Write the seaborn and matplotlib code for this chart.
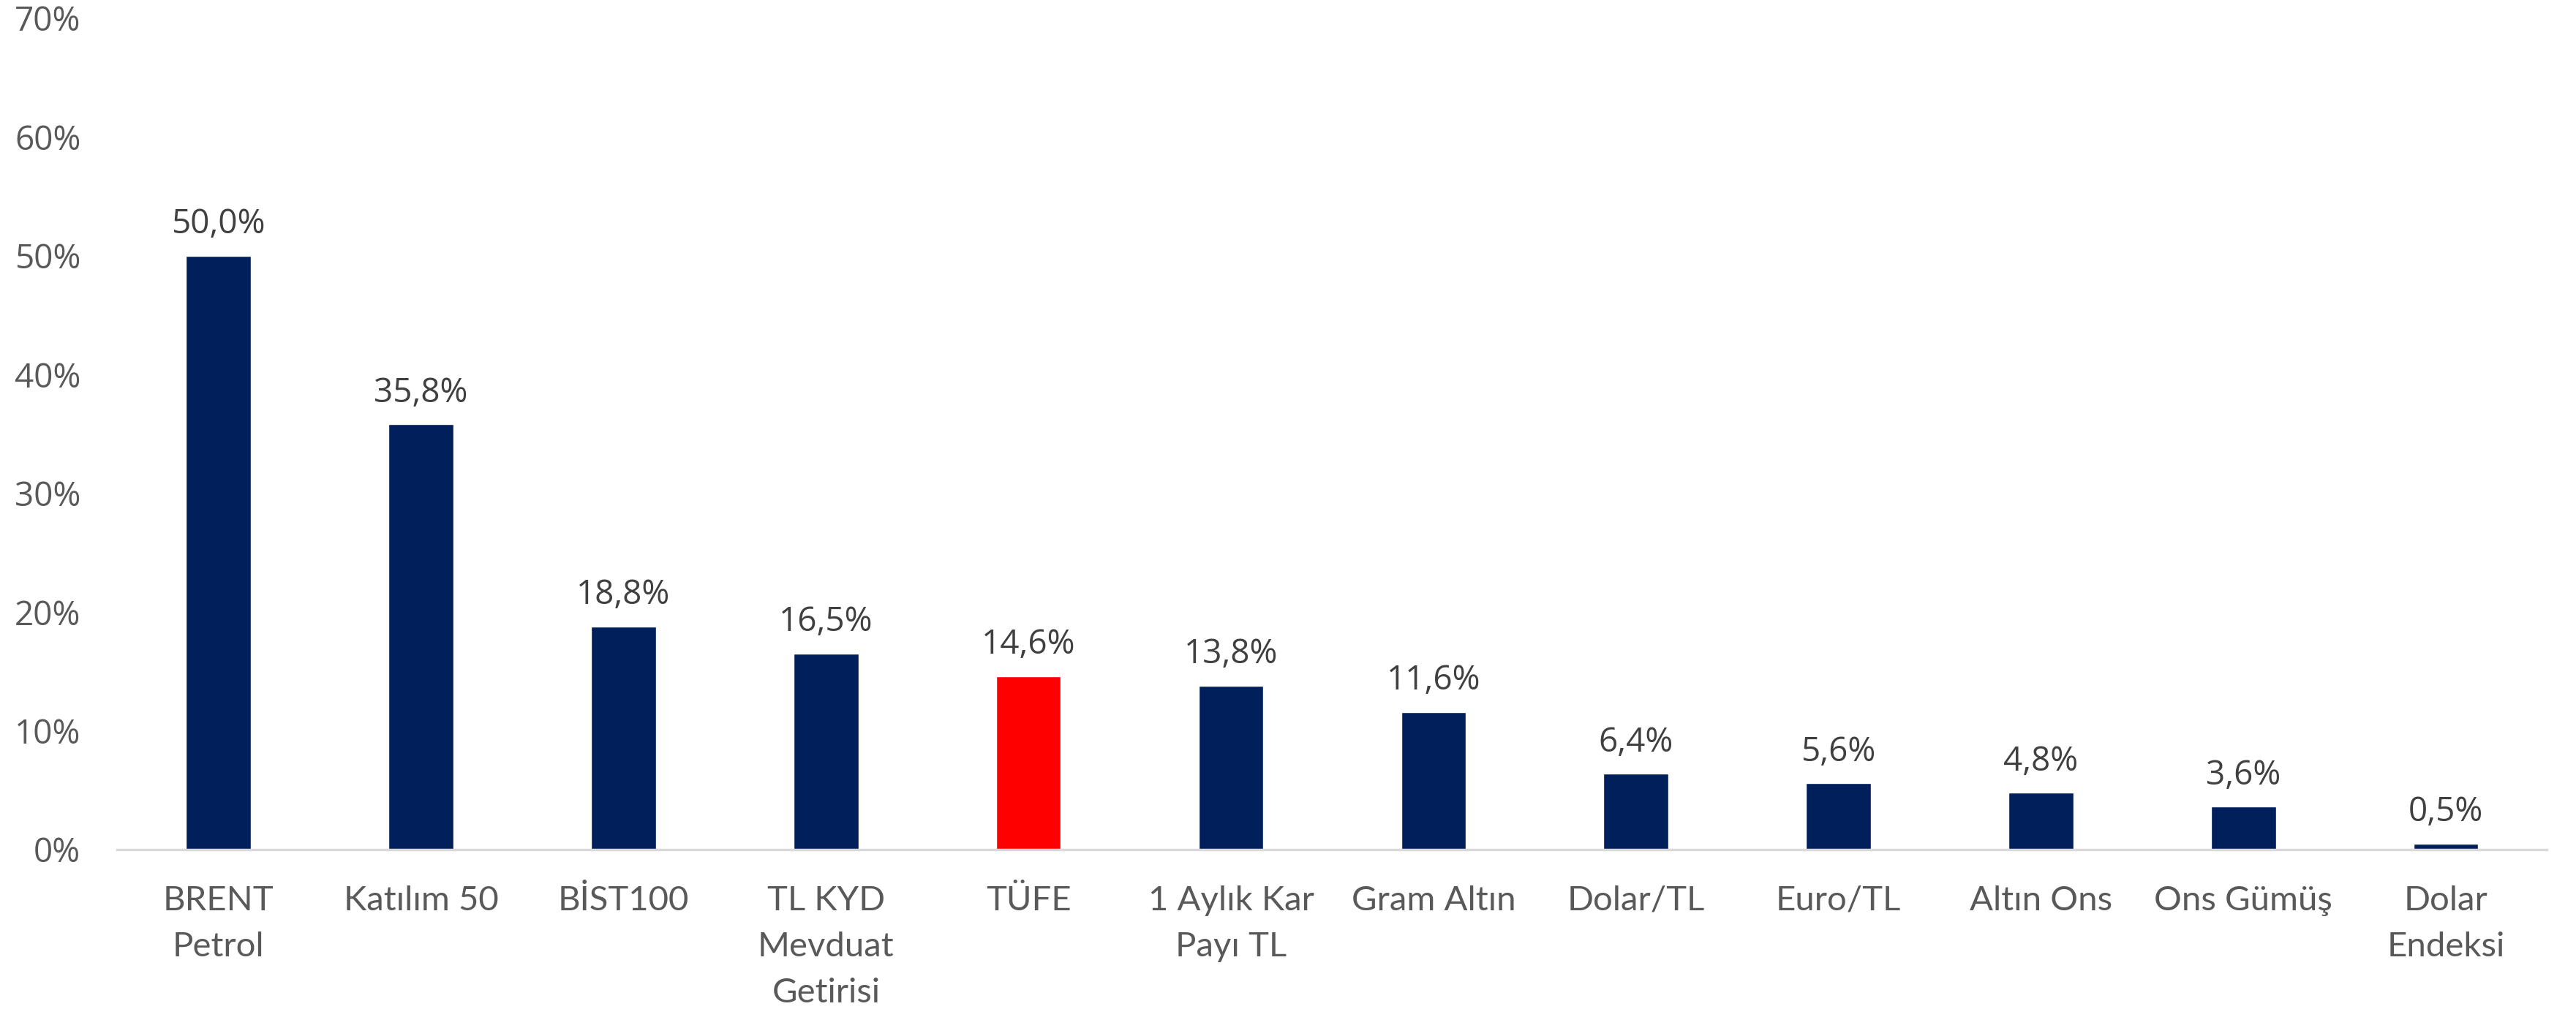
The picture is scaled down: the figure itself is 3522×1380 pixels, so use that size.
import matplotlib
matplotlib.use("Agg")
import matplotlib.pyplot as plt
import seaborn as sns
import pandas as pd

categories = ["BRENT\nPetrol", "Katılım 50", "BİST100", "TL KYD\nMevduat\nGetirisi", "TÜFE",
              "1 Aylık Kar\nPayı TL", "Gram Altın", "Dolar/TL", "Euro/TL", "Altın Ons",
              "Ons Gümüş", "Dolar\nEndeksi"]
values = [50.0, 35.8, 18.8, 16.5, 14.6, 13.8, 11.6, 6.4, 5.6, 4.8, 3.6, 0.5]
value_labels = ["50,0%", "35,8%", "18,8%", "16,5%", "14,6%", "13,8%", "11,6%",
                "6,4%", "5,6%", "4,8%", "3,6%", "0,5%"]
y_ticks = [0, 10, 20, 30, 40, 50, 60, 70]
y_tick_labels = ["0%", "10%", "20%", "30%", "40%", "50%", "60%", "70%"]
navy = "#001F5B"
red = "#FF0000"
colors = [red if c == "TÜFE" else navy for c in categories]

sns.set_theme(style="white")
plt.rcParams['font.family'] = ['Open Sans', 'DejaVu Sans']

df = pd.DataFrame({"cat": categories, "val": values})

fig = plt.figure(figsize=(35.23, 13.80), dpi=100)
ax = fig.add_axes([0.0455, 0.158, 0.943, 0.824])
sns.barplot(data=df, x="cat", y="val", hue="cat", palette=colors, legend=False,
            width=0.32, saturation=1, ax=ax)

ax.set_ylim(0, 70)
ax.set_xlim(-0.5, len(categories) - 0.5)
ax.set_yticks(y_ticks)
ax.set_yticklabels(y_tick_labels, fontsize=33, color="#595959")
ax.tick_params(axis="y", length=0, pad=36)
ax.tick_params(axis="x", length=0, pad=35)
for lbl in ax.get_xticklabels():
    lbl.set_fontfamily(['Lato', 'DejaVu Sans'])
    lbl.set_fontsize(34)
    lbl.set_color("#595959")
    lbl.set_linespacing(1.62)
ax.set_xlabel("")
ax.set_ylabel("")
for s in ["top", "right", "left"]:
    ax.spines[s].set_visible(False)
ax.spines["bottom"].set_color("#D9D9D9")
ax.spines["bottom"].set_linewidth(2.5)
ax.grid(False)

for cont in ax.containers:
    idx = [int(round(p.get_x() + p.get_width() / 2)) for p in cont]
    ax.bar_label(cont, labels=[value_labels[i] for i in idx], padding=14,
                 fontsize=33, color="#404040")

fig.savefig("out.png", dpi=100, facecolor="white")
